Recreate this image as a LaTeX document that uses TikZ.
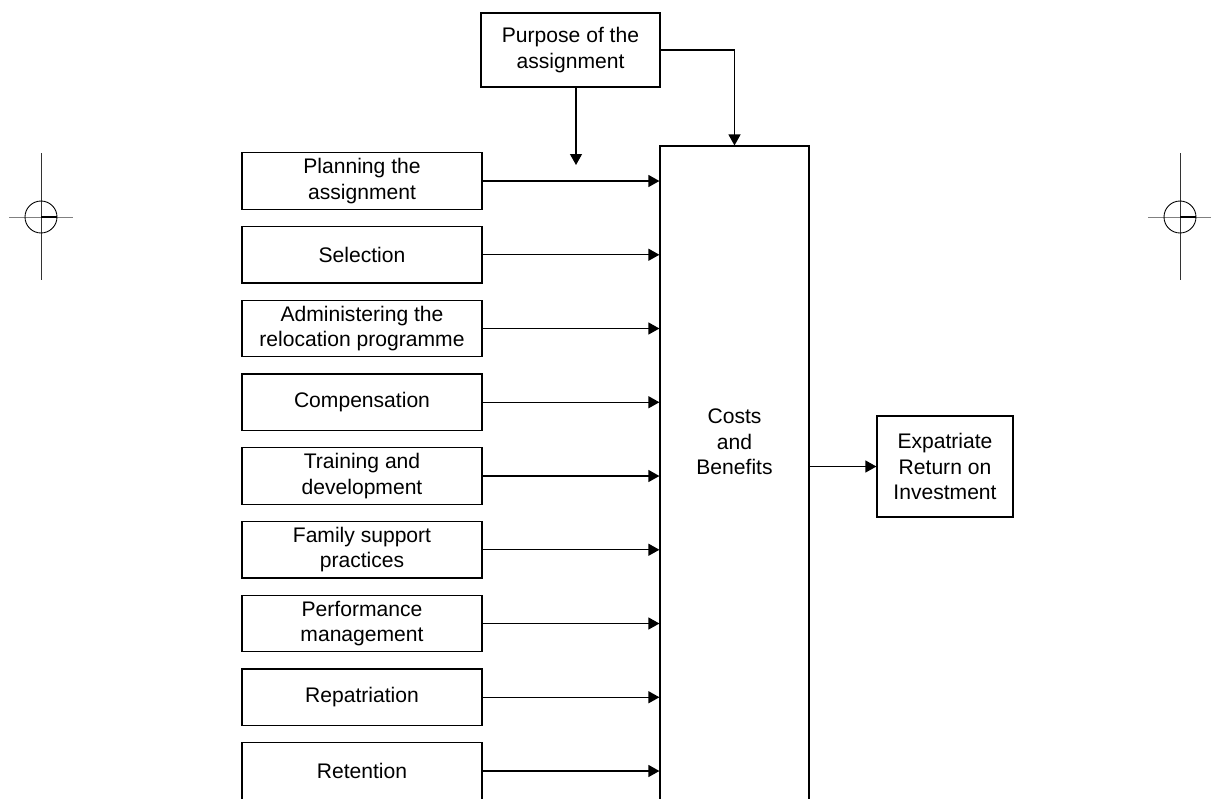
\documentclass[tikz,border=0pt]{standalone}
\usepackage{fontspec}
\setmainfont{Liberation Sans}
\usetikzlibrary{arrows.meta}
\begin{document}
\begin{tikzpicture}[>={Triangle[length=0.22cm,width=0.24cm]}, x=0.02cm, y=-0.02cm,
  box/.style={draw, line width=0.7pt, align=center, inner sep=0pt,
    font=\fontsize{12}{14.5}\selectfont},
  inbox/.style={box, minimum width=4.8cm, minimum height=1.13cm},
  cropline/.style={line width=0.5pt}]
\useasboundingbox (0,0) rectangle (1211,799);
\clip (0,0) rectangle (1211,798.2);

% crop marks
\foreach \cx/\xa/\xb in {41/9/73, 1180/1148/1211}{
  \draw[cropline, gray] (\xa,217) -- (\xb,217);
  \draw[cropline, black!80] (\cx,153) -- (\cx,280);
  \draw[cropline] (\cx,217) circle[radius=0.32cm];
  \draw[line width=1.2pt] (\cx,217) -- ++(16,0);
}

\node[box, minimum width=3.58cm, minimum height=1.48cm] (purpose) at (570.5,50) {Purpose of the\\assignment};
\node[draw, line width=0.7pt, minimum width=2.98cm, minimum height=14cm] (cb) at (734.5,496) {};
\node[align=center, font=\fontsize{12}{14.5}\selectfont] (cbtxt) at (734.5,442) {Costs\\and\\Benefits};
\node[box, minimum width=2.72cm, minimum height=2.02cm] (roi) at (945,466.5) {Expatriate\\Return on\\Investment};

\foreach \txt [count=\i] in {{Planning the\\assignment}, Selection,
    {Administering the\\relocation programme}, Compensation,
    {Training and\\development}, {Family support\\practices},
    {Performance\\management}, Repatriation, Retention}
  \node[inbox] (in\i) at (362,{181+73.75*(\i-1)}) {\txt};

\foreach \i in {1,...,9}
  \draw[->, line width=0.7pt] (in\i.east) -- (in\i.east -| cb.west);

\coordinate (pdown) at (576,165);
\draw[->, line width=0.7pt] (purpose.south -| pdown) -- (pdown);
\draw[->, line width=0.7pt] (purpose.east) -| (cb.north);
\draw[->, line width=0.7pt] (cb.east |- roi.west) -- (roi.west);

\end{tikzpicture}
\end{document}
